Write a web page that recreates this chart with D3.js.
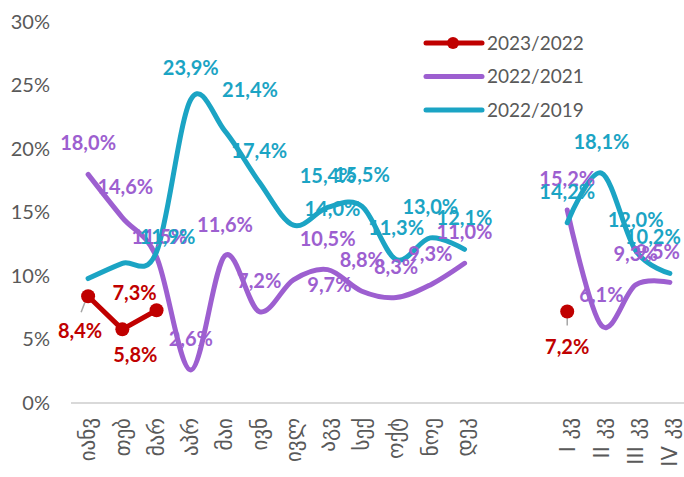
<!DOCTYPE html>
<html><head><meta charset="utf-8">
<script src="https://cdn.jsdelivr.net/npm/d3@7"></script>
<style>
html,body{margin:0;padding:0;background:#fff;}
svg{display:block;}
</style></head>
<body>
<svg id="chart" width="684" height="477"></svg>
<script>
// ---- data ----
const categories = ["იანვ","თებ","მარ","აპრ","მაი","ივნ","ივლ","აგვ","სექ","ოქტ","ნოე","დეკ","","","I კვ","II კვ","III კვ","IV კვ"];
const seriesNames = ["2023/2022","2022/2021","2022/2019"];
const red    = [8.4,5.8,7.3,null,null,null,null,null,null,null,null,null,null,null,7.2,null,null,null];
const purple = [18.0,14.6,11.5,2.6,11.6,7.2,9.7,10.5,8.8,8.3,9.3,11.0,null,null,15.2,6.1,9.3,9.5];
const teal   = [9.8,11.0,11.9,23.9,21.4,17.4,14.0,15.4,15.5,11.3,13.0,12.1,null,null,14.2,18.1,12.0,10.2];
const tealHiddenLabels = [0,1];
const yTicks = [0,5,10,15,20,25,30];

// ---- label placement (pixel offsets from point) ----
const redOff = {0:[-8,35],1:[13,26],2:[-22,-17],14:[0,35]};
const purpleOff = {1:[3,-31],2:[3,-20],6:[36,5],17:[-12,-30]};
const tealOff = {2:[11,-15],4:[25,-41],6:[39,-16],17:[-17,-36]};

const colors = {red:"#c00000", purple:"#9d5fd0", teal:"#1ba4c4"};

const svg = d3.select("#chart");
const x = d3.scaleBand().domain(d3.range(categories.length)).range([71, 687]);
const y = d3.scaleLinear().domain([0,30]).range([403, 22]);
const cx = i => x(i) + x.bandwidth()/2;

// y tick labels
const yAxis = d3.axisLeft(y).tickValues(yTicks).tickFormat(d => d + "%").tickSize(0).tickPadding(0);
const gy = svg.append("g").attr("transform","translate(50,0)").call(yAxis);
gy.select(".domain").remove();
gy.selectAll("text").attr("font-family","Lato, 'Open Sans', sans-serif").attr("font-size",20).attr("fill","#595959");

// x axis
const xAxis = d3.axisBottom(x).tickFormat(i => categories[i]).tickSize(0).tickPadding(0);
const gx = svg.append("g").attr("transform","translate(0,403)").call(xAxis);
gx.select(".domain").attr("stroke","#d9d9d9").attr("stroke-width",2).attr("d","M71,0H690");
gx.selectAll("text")
  .attr("font-family","'DejaVu Sans', Lato, sans-serif").attr("font-size",21).attr("fill","#595959")
  .attr("text-anchor","end").attr("transform","translate(0,15) rotate(-90)")
  .attr("x",0).attr("y",0).attr("dy","0.35em");

const line = d3.line()
  .defined(d => d != null)
  .x((d,i) => cx(i)).y(d => y(d))
  .curve(d3.curveCardinal.tension(0));

function drawLine(data, color){
  svg.append("path").datum(data).attr("d", line)
    .attr("fill","none").attr("stroke",color).attr("stroke-width",5)
    .attr("stroke-linecap","round").attr("stroke-linejoin","round");
}
drawLine(purple, colors.purple);
drawLine(teal, colors.teal);
const redLine = d3.line().defined(d => d != null).x((d,i)=>cx(i)).y(d=>y(d));
svg.append("path").datum(red).attr("d", redLine)
  .attr("fill","none").attr("stroke",colors.red).attr("stroke-width",5)
  .attr("stroke-linecap","round").attr("stroke-linejoin","round");

// leader lines for red labels
const leaders = [[0,[-2,3],[-7,16]],[14,[0,4],[0,14]]];
leaders.forEach(([i,a,b]) => {
  svg.append("line").attr("x1",cx(i)+a[0]).attr("y1",y(red[i])+a[1])
    .attr("x2",cx(i)+b[0]).attr("y2",y(red[i])+b[1])
    .attr("stroke","#a6a6a6").attr("stroke-width",1.5);
});

svg.selectAll("circle.red").data(red.map((v,i)=>({v,i})).filter(d=>d.v!=null))
  .enter().append("circle").attr("class","red")
  .attr("cx",d=>cx(d.i)).attr("cy",d=>y(d.v)).attr("r",7).attr("fill",colors.red);

// data labels
const fmt = v => d3.format(".1f")(v).replace(".",",") + "%";
function drawLabels(data, color, offs, hidden){
  data.forEach((v,i) => {
    if (v == null || (hidden && hidden.includes(i))) return;
    const o = offs[i] || [0,-31];
    svg.append("text").attr("x",cx(i)+o[0]).attr("y",y(v)+o[1]).attr("dy","0.35em")
      .attr("text-anchor","middle").attr("font-family","Lato, 'Open Sans', sans-serif")
      .attr("font-weight","bold").attr("font-size",20).attr("fill",color).text(fmt(v));
  });
}
drawLabels(red, colors.red, redOff);
drawLabels(purple, colors.purple, purpleOff);
drawLabels(teal, colors.teal, tealOff, tealHiddenLabels);

// legend
const legendColors = [colors.red, colors.purple, colors.teal];
const lg = svg.append("g");
seriesNames.forEach((n,k) => {
  const yy = 43 + k*33.5;
  lg.append("line").attr("x1",426).attr("x2",482).attr("y1",yy).attr("y2",yy)
    .attr("stroke",legendColors[k]).attr("stroke-width",5).attr("stroke-linecap","round");
  if (k === 0) lg.append("circle").attr("cx",453).attr("cy",yy).attr("r",6).attr("fill",legendColors[k]);
  lg.append("text").attr("x",487).attr("y",yy).attr("dy","0.35em")
    .attr("font-family","Lato, 'Open Sans', sans-serif").attr("font-size",19).attr("fill","#595959").text(n);
});
</script>
</body></html>
